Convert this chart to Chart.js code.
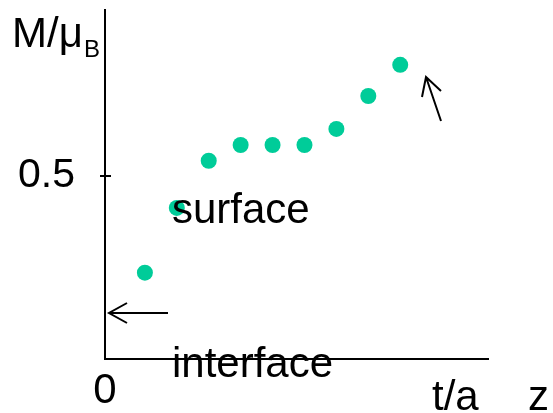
<!DOCTYPE html>
<html><head><meta charset="utf-8">
<script src="https://cdn.jsdelivr.net/npm/chart.js@4/dist/chart.umd.min.js"></script>
<style>html,body{margin:0;padding:0;background:#fff}</style>
</head><body>
<canvas id="c" width="553" height="413" style="display:block;width:553px;height:413px"></canvas>
<script>
// data
const positions = [1, 2, 3, 4, 5, 6, 7, 8, 9];
const magnetization = [0.236, 0.413, 0.542, 0.585, 0.585, 0.585, 0.629, 0.719, 0.804];
const yTickValues = [0.5];
const yTickLabels = ['0.5'];
const xTickValues = [-0.25];
const xTickLabels = ['0'];

const FONT = '"Liberation Sans", Arial, sans-serif';

const annot = {
  id: 'annot',
  afterDatasetsDraw(chart) {
    const ctx = chart.ctx, a = chart.chartArea, ys = chart.scales.y;
    ctx.save();
    ctx.strokeStyle = '#000';
    ctx.fillStyle = '#000';
    ctx.lineWidth = 2;
    ctx.lineCap = 'butt';
    // crossing tick marks
    yTickValues.forEach(v => {
      const py = Math.round(ys.getPixelForValue(v));
      ctx.beginPath(); ctx.moveTo(a.left - 5, py); ctx.lineTo(a.left + 6, py); ctx.stroke();
    });
    // arrows
    const arrow = (x1, y1, x2, y2, h1x, h1y, h2x, h2y) => {
      ctx.beginPath();
      ctx.moveTo(x1, y1); ctx.lineTo(x2, y2);
      ctx.moveTo(h1x, h1y); ctx.lineTo(x2, y2); ctx.lineTo(h2x, h2y);
      ctx.stroke();
    };
    arrow(168, 313, 109, 313, 127, 303, 127, 323);
    arrow(441, 121, 426, 77, 422, 97, 441, 91);
    // texts
    ctx.textBaseline = 'alphabetic';
    ctx.textAlign = 'left';
    ctx.font = '42px ' + FONT;
    ctx.fillText('M/\u03bc', 12, 47);
    ctx.fillText('surface', 172, 223);
    ctx.fillText('interface', 172, 377);
    ctx.fillText('t/a', 432, 410);
    ctx.fillText('z', 528, 410);
    ctx.font = '24px ' + FONT;
    ctx.fillText('B', 84, 57);
    ctx.restore();
  }
};

new Chart(document.getElementById('c'), {
  type: 'scatter',
  data: {
    datasets: [{
      data: positions.map((x, i) => ({ x: x, y: magnetization[i] })),
      backgroundColor: '#00CC99',
      borderWidth: 0,
      pointRadius: 8,
      pointHoverRadius: 8
    }]
  },
  options: {
    responsive: false,
    animation: false,
    events: [],
    layout: { padding: { top: 10, right: 65, left: 0, bottom: 0 } },
    plugins: { legend: { display: false }, tooltip: { enabled: false } },
    scales: {
      x: {
        type: 'linear',
        position: 'bottom',
        min: -0.25, max: 11.75,
        grid: { display: true, drawOnChartArea: false, drawTicks: false },
        border: { display: true, color: '#000', width: 2 },
        afterBuildTicks: s => { s.ticks = xTickValues.map(v => ({ value: v })); },
        afterFit: s => { s.height = 54; s.paddingLeft = 0; s.paddingRight = 0; s.paddingTop = 0; s.paddingBottom = 0; },
        ticks: {
          autoSkip: false, maxRotation: 0, color: '#000', padding: 7,
          font: { family: FONT, size: 42 },
          callback: (v, i) => xTickLabels[i]
        }
      },
      y: {
        type: 'linear',
        position: 'left',
        min: 0, max: 0.954,
        grid: { display: true, drawOnChartArea: false, drawTicks: false },
        border: { display: true, color: '#000', width: 2 },
        afterBuildTicks: s => { s.ticks = yTickValues.map(v => ({ value: v })); },
        afterFit: s => { s.width = 105; s.paddingTop = 0; s.paddingBottom = 0; s.paddingLeft = 0; s.paddingRight = 0; },
        ticks: {
          autoSkip: false, color: '#000', padding: 30,
          font: { family: FONT, size: 41 },
          callback: (v, i) => yTickLabels[i]
        }
      }
    }
  },
  plugins: [annot]
});
</script>
</body></html>
